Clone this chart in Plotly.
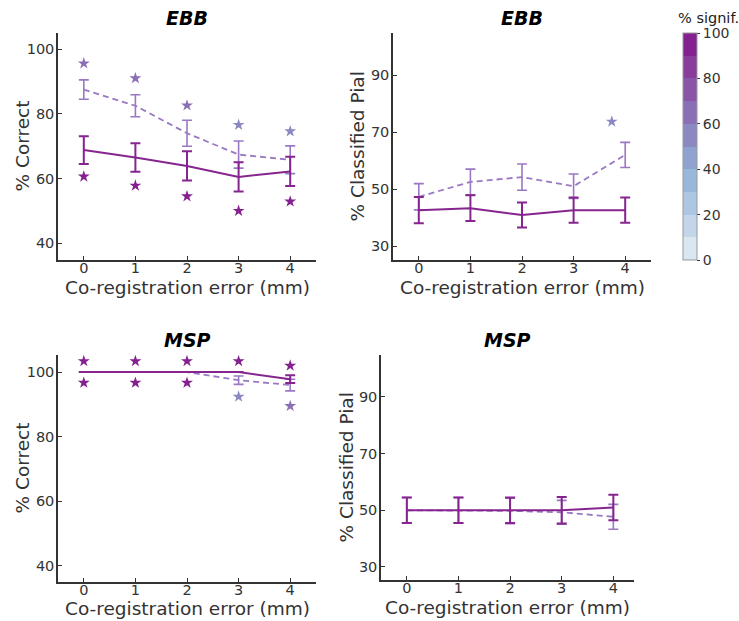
import plotly.graph_objects as go

x = [0, 1, 2, 3, 4]
tick_vals = [0, 1, 2, 3, 4]

# Panel 1: EBB % Correct
ebb_corr_solid = [68.8, 66.5, 63.9, 60.5, 62.2]
ebb_corr_solid_err = [4.3, 4.4, 4.5, 4.5, 4.5]
ebb_corr_dash = [87.5, 82.5, 74.0, 67.4, 65.8]
ebb_corr_dash_err = [3.0, 3.4, 4.0, 4.2, 4.3]
ebb_corr_star_x = [0, 1, 2, 3, 4, 0, 1, 2, 3, 4]
ebb_corr_star_y = [95.6, 91.0, 82.6, 76.6, 74.6, 60.6, 57.8, 54.5, 50.0, 52.9]
ebb_corr_star_sig = [66, 66, 66, 55, 55, 95, 95, 95, 95, 95]

# Panel 2: EBB % Classified Pial
ebb_pial_solid = [42.6, 43.3, 40.9, 42.6, 42.6]
ebb_pial_solid_err = [4.6, 4.5, 4.4, 4.4, 4.4]
ebb_pial_dash = [47.3, 52.5, 54.2, 51.0, 62.0]
ebb_pial_dash_err = [4.6, 4.5, 4.6, 4.3, 4.4]
ebb_pial_star_x = [3.74]
ebb_pial_star_y = [73.7]
ebb_pial_star_sig = [55]

# Panel 3: MSP % Correct
msp_corr_solid = [100, 100, 100, 100, 97.8]
msp_corr_solid_err = [0, 0, 0, 0, 1.2]
msp_corr_dash = [100, 100, 100, 97.5, 96.0]
msp_corr_dash_err = [0, 0, 0, 1.3, 1.8]
msp_corr_star_x = [0, 1, 2, 3, 4, 0, 1, 2, 3, 4]
msp_corr_star_y = [103.4, 103.4, 103.4, 103.4, 102.0, 96.7, 96.7, 96.7, 92.4, 89.5]
msp_corr_star_sig = [95, 95, 95, 95, 92, 92, 92, 92, 55, 64]

# Panel 4: MSP % Classified Pial
msp_pial_solid = [50, 50, 50, 50, 51.0]
msp_pial_solid_err = [4.5, 4.5, 4.5, 4.7, 4.5]
msp_pial_dash = [50, 50, 49.8, 49.3, 47.7]
msp_pial_dash_err = [4.5, 4.5, 4.5, 4.2, 4.4]

band_colors = ["#dae7f1", "#c3d6e9", "#adc7e2", "#99b7da", "#8fa2d0",
               "#8b88c2", "#8b6fb6", "#8a55a8", "#893c9c", "#84208f"]
cbar_ticks = [0, 20, 40, 60, 80, 100]

SOLID = "#86258f"
DASH = "#9a78c3"
TXT = "#333333"
FONT = "DejaVu Sans"

colorscale = []
n = len(band_colors)
for i, c in enumerate(band_colors):
    colorscale.append([i / n, c])
    colorscale.append([(i + 1) / n, c])

W, H = 739, 621
def xd(a, b):
    return [a / W, b / W]
def yd(top, bot):
    return [1 - bot / H, 1 - top / H]

panels = [
    dict(xdom=xd(58, 316), ydom=yd(33, 260), xr=[-0.5, 4.5], yr=[34.8, 105],
         yt=[40, 60, 80, 100], ytitle="% Correct", title="EBB", ytx=22, xty=287,
         s=ebb_corr_solid, se=ebb_corr_solid_err, d=ebb_corr_dash, de=ebb_corr_dash_err,
         sx=ebb_corr_star_x, sy=ebb_corr_star_y, sc=ebb_corr_star_sig),
    dict(xdom=xd(393, 651), ydom=yd(33, 260), xr=[-0.5, 4.5], yr=[25.1, 104.8],
         yt=[30, 50, 70, 90], ytitle="% Classified Pial", title="EBB", ytx=357, xty=287,
         s=ebb_pial_solid, se=ebb_pial_solid_err, d=ebb_pial_dash, de=ebb_pial_dash_err,
         sx=ebb_pial_star_x, sy=ebb_pial_star_y, sc=ebb_pial_star_sig),
    dict(xdom=xd(58, 316), ydom=yd(355, 582), xr=[-0.5, 4.5], yr=[35.0, 105.3],
         yt=[40, 60, 80, 100], ytitle="% Correct", title="MSP", ytx=22, xty=608,
         s=msp_corr_solid, se=msp_corr_solid_err, d=msp_corr_dash, de=msp_corr_dash_err,
         sx=msp_corr_star_x, sy=msp_corr_star_y, sc=msp_corr_star_sig),
    dict(xdom=xd(381, 634), ydom=yd(355, 580), xr=[-0.5, 4.4], yr=[25.4, 104.8],
         yt=[30, 50, 70, 90], ytitle="% Classified Pial", title="MSP", ytx=346, xty=607,
         s=msp_pial_solid, se=msp_pial_solid_err, d=msp_pial_dash, de=msp_pial_dash_err,
         sx=None, sy=None, sc=None),
]

fig = go.Figure()
layout = {}
annotations = []
for i, p in enumerate(panels, start=1):
    xa = "x" if i == 1 else f"x{i}"
    ya = "y" if i == 1 else f"y{i}"
    axis_common = dict(showline=True, linecolor=TXT, linewidth=1.5, mirror=False,
                       showgrid=False, zeroline=False, ticks="inside", ticklen=4,
                       tickwidth=1.2, tickcolor=TXT,
                       tickfont=dict(family=FONT, size=14.5, color=TXT))
    layout["xaxis" if i == 1 else f"xaxis{i}"] = dict(
        domain=p["xdom"], range=p["xr"], anchor=ya, tickvals=tick_vals,
        ticklabelstandoff=-6, **axis_common)
    layout["yaxis" if i == 1 else f"yaxis{i}"] = dict(
        domain=p["ydom"], range=p["yr"], anchor=xa, tickvals=p["yt"],
        ticklabelstandoff=-1, **axis_common)
    # dashed series
    fig.add_trace(go.Scatter(
        x=x, y=p["d"], mode="lines", xaxis=xa, yaxis=ya,
        line=dict(color=DASH, width=1.8, dash="6px,4px"),
        error_y=dict(type="data", array=p["de"], color=DASH, thickness=1.6, width=5),
        showlegend=False))
    # solid series
    fig.add_trace(go.Scatter(
        x=x, y=p["s"], mode="lines", xaxis=xa, yaxis=ya,
        line=dict(color=SOLID, width=2),
        error_y=dict(type="data", array=p["se"], color=SOLID, thickness=2, width=5),
        showlegend=False))
    if p["sx"] is not None:
        fig.add_trace(go.Scatter(
            x=p["sx"], y=p["sy"], mode="markers", xaxis=xa, yaxis=ya,
            marker=dict(symbol="star", size=9, color=p["sc"], coloraxis="coloraxis",
                        line=dict(width=0)),
            showlegend=False))
    xc = (p["xdom"][0] + p["xdom"][1]) / 2
    yc = (p["ydom"][0] + p["ydom"][1]) / 2
    annotations.append(dict(
        text=f"<b><i>{p['title']}</i></b>", x=xc, y=p["ydom"][1] + 0.003,
        xref="paper", yref="paper", xanchor="center", yanchor="bottom",
        showarrow=False, font=dict(family=FONT, size=19, color="#000000")))
    annotations.append(dict(
        text="Co-registration error (mm)", x=xc, y=1 - p["xty"] / H,
        xref="paper", yref="paper", xanchor="center", yanchor="middle",
        showarrow=False, font=dict(family=FONT, size=18.5, color=TXT)))
    annotations.append(dict(
        text=p["ytitle"], x=p["ytx"] / W, y=yc, textangle=-90,
        xref="paper", yref="paper", xanchor="center", yanchor="middle",
        showarrow=False, font=dict(family=FONT, size=18.5, color=TXT)))

annotations.append(dict(
    text="% signif.", x=708 / W, y=1 - 18 / H, xref="paper", yref="paper",
    xanchor="center", yanchor="middle", showarrow=False,
    font=dict(family=FONT, size=14.5, color="#222222")))

fig.update_layout(
    width=W, height=H,
    margin=dict(l=0, r=0, t=0, b=0),
    paper_bgcolor="white", plot_bgcolor="white",
    annotations=annotations,
    coloraxis=dict(
        colorscale=colorscale, cmin=0, cmax=100,
        colorbar=dict(
            x=683 / W, xanchor="left", y=1 - 33 / H, yanchor="top",
            len=227 / H, lenmode="fraction", thickness=14, thicknessmode="pixels",
            outlinewidth=1, outlinecolor="#999999",
            tickvals=cbar_ticks, ticks="outside", ticklen=3, tickcolor=TXT,
            tickfont=dict(family=FONT, size=14, color=TXT),
            xpad=0, ypad=0)),
    **layout)

fig.write_html("out.html")
